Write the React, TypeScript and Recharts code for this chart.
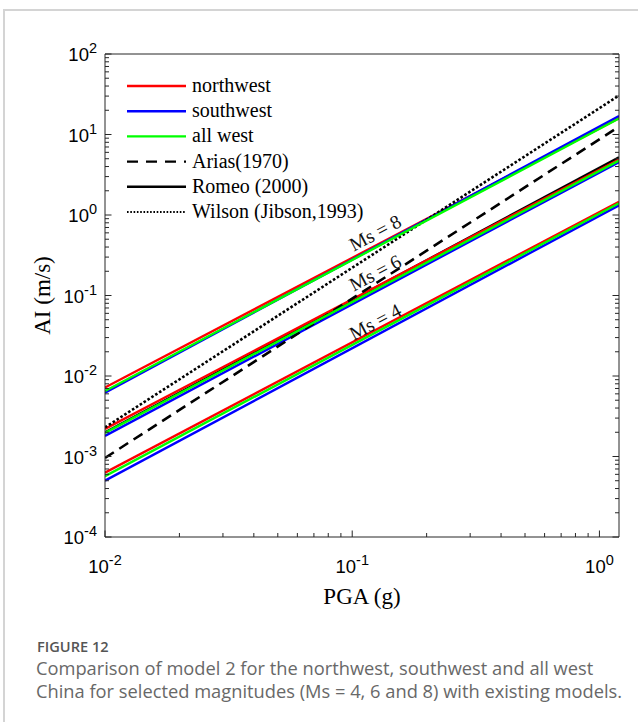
import React from "react";
import { ComposedChart, Line, XAxis, YAxis, Legend, ReferenceDot, Label } from "recharts";

// PGA (g) at the two ends of the plotted range; every curve is a straight line in log-log
const PGA = [0.01, 1.2];

// model 2, AI (m/s) read at PGA = 0.01 and 1.2
const NW_MS8 = [7.2e-3, 16];
const SW_MS8 = [6.2e-3, 17];
const AW_MS8 = [6.5e-3, 15.8];
const NW_MS6 = [2.2e-3, 4.9];
const SW_MS6 = [1.8e-3, 4.55];
const AW_MS6 = [1.96e-3, 4.73];
const NW_MS4 = [6.3e-4, 1.46];
const SW_MS4 = [5.0e-4, 1.32];
const AW_MS4 = [5.7e-4, 1.4];

// existing models
const ARIAS = [9.6e-4, 12.5];
const ROMEO = [2.0e-3, 5.2];
const WILSON = [2.3e-3, 30.5];

const MS_LABELS = ["Ms = 8", "Ms = 6", "Ms = 4"];
const MS_LABEL_PGA = [0.124, 0.124, 0.124];
const MS_LABEL_AI = [0.597, 0.19, 0.0469];

const X_TICKS = [
  0.01, 0.02, 0.03, 0.04, 0.05, 0.06, 0.07, 0.08, 0.09,
  0.1, 0.2, 0.3, 0.4, 0.5, 0.6, 0.7, 0.8, 0.9, 1,
];
const Y_DECADES = [1e-4, 1e-3, 1e-2, 1e-1, 1, 10];
const MANTISSAS = [1, 2, 3, 4, 5, 6, 7, 8, 9];
const Y_TICKS = [...Y_DECADES.flatMap((d) => MANTISSAS.map((m) => m * d)), 100];

const LEGEND_ITEMS = [
  { name: "northwest", color: "#ff0000", dash: undefined, w: 2.4 },
  { name: "southwest", color: "#0000ff", dash: undefined, w: 2.4 },
  { name: "all west", color: "#00ff00", dash: undefined, w: 2.4 },
  { name: "Arias(1970)", color: "#000000", dash: "11 8", w: 2.4 },
  { name: "Romeo (2000)", color: "#000000", dash: undefined, w: 2.4 },
  { name: "Wilson (Jibson,1993)", color: "#000000", dash: "1.6 1.7", w: 2 },
];

const data = PGA.map((pga, i) => ({
  pga,
  nw8: NW_MS8[i], sw8: SW_MS8[i], aw8: AW_MS8[i],
  nw6: NW_MS6[i], sw6: SW_MS6[i], aw6: AW_MS6[i],
  nw4: NW_MS4[i], sw4: SW_MS4[i], aw4: AW_MS4[i],
  arias: ARIAS[i], romeo: ROMEO[i], wilson: WILSON[i],
}));

const AXIS = "#262626";
const SERIF = "'Liberation Serif', 'Times New Roman', serif";
const SANS = "'Liberation Sans', Arial, sans-serif";

const log10 = (v: number) => Math.log10(v);
const isMajor = (v: number) => Math.abs(log10(v) - Math.round(log10(v))) < 1e-9;

function Pow({ x, y, v, anchor }: { x: number; y: number; v: number; anchor: "middle" | "end" }) {
  return (
    <text x={x} y={y} textAnchor={anchor} fontFamily={SANS} fontSize={18.5} fill="#000">
      10
      <tspan dy={-8} fontSize={14.5}>{String(Math.round(log10(v)))}</tspan>
    </text>
  );
}

function BottomTick(props: any) {
  const { x, y, payload } = props;
  const major = isMajor(payload.value);
  return (
    <g>
      <line x1={x} x2={x} y1={y} y2={y - (major ? 6.5 : 4)} stroke={AXIS} />
      {major && <Pow x={x} y={y + 36} v={payload.value} anchor="middle" />}
    </g>
  );
}

function TopTick(props: any) {
  const { x, y, payload } = props;
  const major = isMajor(payload.value);
  return <line x1={x} x2={x} y1={y} y2={y + (major ? 6.5 : 4)} stroke={AXIS} />;
}

function LeftTick(props: any) {
  const { x, y, payload } = props;
  const major = isMajor(payload.value);
  return (
    <g>
      <line x1={x} x2={x + (major ? 6.5 : 4)} y1={y} y2={y} stroke={AXIS} />
      {major && <Pow x={x - 8} y={y + 7} v={payload.value} anchor="end" />}
    </g>
  );
}

function RightTick(props: any) {
  const { x, y, payload } = props;
  const major = isMajor(payload.value);
  return <line x1={x} x2={x - (major ? 6.5 : 4)} y1={y} y2={y} stroke={AXIS} />;
}

function LegendBox() {
  return (
    <svg width={260} height={160} style={{ display: "block" }}>
      {LEGEND_ITEMS.map((it, i) => {
        const cy = 16 + i * 25.2;
        return (
          <g key={it.name}>
            <line x1={7} x2={66} y1={cy} y2={cy} stroke={it.color} strokeWidth={it.w} strokeDasharray={it.dash} />
            <text x={72} y={cy + 6} fontFamily={SERIF} fontSize={20} fill="#000">
              {it.name}
            </text>
          </g>
        );
      })}
    </svg>
  );
}

function MsLabel(text: string) {
  return (p: any) => (
    <text
      x={p.cx}
      y={p.cy}
      transform={`rotate(-28 ${p.cx} ${p.cy})`}
      textAnchor="middle"
      dominantBaseline="central"
      fontFamily={SERIF}
      fontSize={19.5}
      fill="#111"
    >
      {text}
    </text>
  );
}

const line = (key: string, color: string, dash?: string, width = 2.4) => (
  <Line
    key={key}
    type="linear"
    dataKey={key}
    stroke={color}
    strokeWidth={width}
    strokeDasharray={dash}
    dot={false}
    activeDot={false}
    legendType="none"
    isAnimationActive={false}
  />
);

export default function App() {
  return (
    <div style={{ position: "relative", width: 638, height: 722, background: "#fff", overflow: "hidden" }}>
      <style>{`body{margin:0;background:#fff}`}</style>
      <div
        style={{
          position: "absolute",
          left: 3,
          top: 9,
          width: 660,
          height: 740,
          borderTop: "2px solid #d4d4d4",
          borderLeft: "2px solid #d4d4d4",
        }}
      />
      <div style={{ position: "absolute", left: 0, top: 0 }}>
        <ComposedChart width={638} height={625} data={data} margin={{ top: 50, right: 15, bottom: 0, left: 0 }}>
          <XAxis
            dataKey="pga"
            type="number"
            scale="log"
            domain={[0.01, 1.2]}
            allowDataOverflow
            ticks={X_TICKS}
            interval={0}
            height={88}
            tickSize={0}
            tickMargin={0}
            tickLine={false}
            axisLine={{ stroke: AXIS }}
            tick={BottomTick}
          >
            <Label
              content={(p: any) => (
                <text
                  x={p.viewBox.x + p.viewBox.width / 2}
                  y={604}
                  textAnchor="middle"
                  fontFamily={SERIF}
                  fontSize={23}
                  fill="#000"
                >
                  PGA (g)
                </text>
              )}
            />
          </XAxis>
          <XAxis
            xAxisId="top"
            orientation="top"
            type="number"
            scale="log"
            domain={[0.01, 1.2]}
            allowDataOverflow
            ticks={X_TICKS}
            interval={0}
            height={4}
            tickSize={0}
            tickMargin={0}
            tickLine={false}
            axisLine={{ stroke: AXIS }}
            tick={TopTick}
          />
          <YAxis
            type="number"
            scale="log"
            domain={[1e-4, 100]}
            allowDataOverflow
            ticks={Y_TICKS}
            interval={0}
            width={105}
            tickSize={0}
            tickMargin={0}
            tickLine={false}
            axisLine={{ stroke: AXIS }}
            tick={LeftTick}
          >
            <Label
              content={(p: any) => {
                const cx = 42;
                const cy = p.viewBox.y + p.viewBox.height / 2;
                return (
                  <text
                    x={cx}
                    y={cy}
                    transform={`rotate(-90 ${cx} ${cy})`}
                    textAnchor="middle"
                    dominantBaseline="central"
                    fontFamily={SERIF}
                    fontSize={23}
                    fill="#000"
                  >
                    AI (m/s)
                  </text>
                );
              }}
            />
          </YAxis>
          <YAxis
            yAxisId="right"
            orientation="right"
            type="number"
            scale="log"
            domain={[1e-4, 100]}
            allowDataOverflow
            ticks={Y_TICKS}
            interval={0}
            width={4}
            tickSize={0}
            tickMargin={0}
            tickLine={false}
            axisLine={{ stroke: AXIS }}
            tick={RightTick}
          />
          <Legend
            layout="horizontal"
            verticalAlign="middle"
            align="center"
            content={<LegendBox />}
            wrapperStyle={{ position: "absolute", left: 120, top: 70, width: 260, height: 160 }}
          />
          {/* Romeo sits under the Ms = 6 band and only shows where it rises above it */}
          {line("romeo", "#000000")}
          {line("nw8", "#ff0000")}
          {line("nw6", "#ff0000")}
          {line("nw4", "#ff0000")}
          {line("sw8", "#0000ff")}
          {line("sw6", "#0000ff")}
          {line("sw4", "#0000ff")}
          {line("arias", "#000000", "10.5 6.5", 2.6)}
          {line("wilson", "#000000", "2.6 2", 2.6)}
          {line("aw8", "#00ff00")}
          {line("aw6", "#00ff00")}
          {line("aw4", "#00ff00")}
          {MS_LABELS.map((t, i) => (
            <ReferenceDot
              key={t}
              x={MS_LABEL_PGA[i]}
              y={MS_LABEL_AI[i]}
              r={0}
              ifOverflow="visible"
              shape={MsLabel(t)}
            />
          ))}
        </ComposedChart>
      </div>
      <div
        style={{
          position: "absolute",
          left: 37,
          top: 637,
          fontFamily: "'Open Sans', sans-serif",
          fontSize: 14.6,
          lineHeight: "18px",
          fontWeight: 600,
          color: "#555",
          whiteSpace: "nowrap",
        }}
      >
        FIGURE 12
      </div>
      <div
        style={{
          position: "absolute",
          left: 36,
          top: 656,
          fontFamily: "'Open Sans', sans-serif",
          fontSize: 18.3,
          lineHeight: "23px",
          color: "#686868",
          whiteSpace: "nowrap",
        }}
      >
        <div>Comparison of model 2 for the northwest, southwest and all west</div>
        <div>China for selected magnitudes (Ms = 4, 6 and 8) with existing models.</div>
      </div>
    </div>
  );
}
